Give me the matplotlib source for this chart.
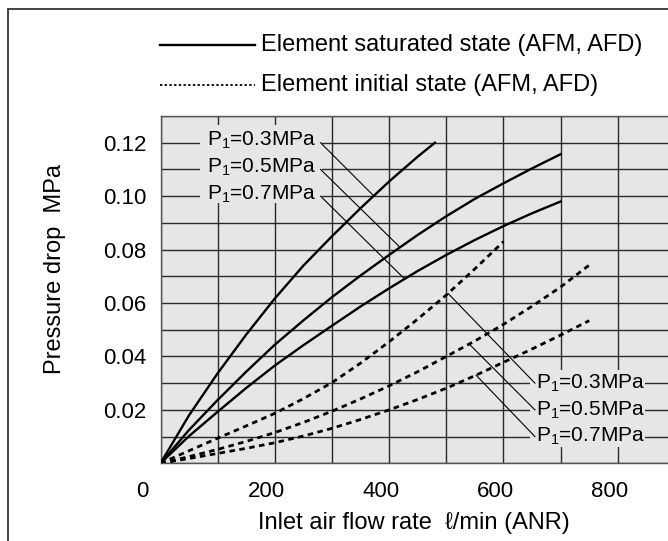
import numpy as np
import matplotlib
matplotlib.use('Agg')
import matplotlib.pyplot as plt
from matplotlib.patches import Rectangle
from matplotlib.lines import Line2D
from matplotlib.transforms import ScaledTranslation

plt.rcParams['font.family'] = ['Liberation Sans', 'DejaVu Sans']
plt.rcParams['mathtext.fontset'] = 'custom'
plt.rcParams['mathtext.rm'] = 'Liberation Sans'
plt.rcParams['mathtext.it'] = 'Liberation Sans:italic'

# Element saturated state (solid curves)
sat_03_x = [0, 50, 100, 150, 200, 250, 300, 350, 400, 450, 480]
sat_03_y = [0, 0.018, 0.0337, 0.0482, 0.0617, 0.0740, 0.0850, 0.0955, 0.1055, 0.1148, 0.1200]
sat_x = [0, 50, 100, 150, 200, 250, 300, 350, 400, 450, 500, 550, 600, 650, 700]
sat_05_y = [0, 0.0125, 0.0237, 0.0343, 0.0444, 0.0535, 0.0622, 0.0703, 0.0780, 0.0855,
            0.0925, 0.0990, 0.1048, 0.1104, 0.1157]
sat_07_y = [0, 0.0102, 0.0193, 0.0282, 0.0366, 0.0442, 0.0515, 0.0587, 0.0655, 0.0720,
            0.0780, 0.0836, 0.0888, 0.0936, 0.0980]

# Element initial state (dotted curves)
ini_03_x = [0, 50, 100, 150, 200, 250, 300, 350, 400, 450, 500, 550, 600]
ini_03_y = [0, 0.0047, 0.0094, 0.0140, 0.0187, 0.0242, 0.0302, 0.0375, 0.0455, 0.0540,
            0.0630, 0.0728, 0.0830]
ini_x = [0, 50, 100, 150, 200, 250, 300, 350, 400, 450, 500, 550, 600, 650, 700, 750]
ini_05_y = [0, 0.0025, 0.0052, 0.0082, 0.0115, 0.0153, 0.0195, 0.0241, 0.0290, 0.0343,
            0.0400, 0.0458, 0.0520, 0.0588, 0.0660, 0.0742]
ini_07_y = [0, 0.0018, 0.0037, 0.0056, 0.0077, 0.0102, 0.0131, 0.0164, 0.0200, 0.0239,
            0.0281, 0.0328, 0.0378, 0.0428, 0.0480, 0.0534]

pressures = ['0.3', '0.5', '0.7']
label_tl_y = [0.12, 0.11, 0.10]      # top-left labels (saturated)
label_br_y = [0.03, 0.02, 0.01]      # bottom-right labels (initial)
leader_tl_end = [373, 419, 427]      # flow where leader meets solid curve
leader_br_end = [503, 540, 552]      # flow where leader meets dotted curve

xtick_vals = [0, 200, 400, 600, 800]
ytick_vals = [0.02, 0.04, 0.06, 0.08, 0.10, 0.12]

W, H = 668, 541
fig = plt.figure(figsize=(W / 100, H / 100), dpi=100)
fig.patch.set_facecolor('white')

x0, x1, y0, y1 = 160.5, 675, 463.3, 116
ax = fig.add_axes([x0 / W, 1 - y0 / H, (x1 - x0) / W, (y0 - y1) / H])
ax.set_facecolor('#e6e6e6')
ax.set_xlim(0, 900)
ax.set_ylim(0, 0.13)
ax.set_axisbelow(True)

ax.set_xticks(np.arange(0, 901, 100))
ax.set_xticklabels([str(v) if v in xtick_vals else '' for v in range(0, 901, 100)])
yt = np.round(np.arange(0, 0.131, 0.01), 2)
ax.set_yticks(yt)
ax.set_yticklabels(['%.2f' % v if any(abs(v - t) < 1e-9 for t in ytick_vals) else '' for v in yt])
ax.tick_params(length=0, labelsize=16)
ax.tick_params(axis='y', pad=10)
ax.tick_params(axis='x', pad=13)
ax.grid(True, color='#2a2a2a', lw=1.0)
for s in ax.spines.values():
    s.set_color('#555555')
    s.set_linewidth(1.0)

# shift x tick labels a bit to the left like the original
for lab in ax.get_xticklabels():
    dx = -18 if lab.get_text() == '0' else -8
    lab.set_transform(lab.get_transform() + ScaledTranslation(dx / 100, 0, fig.dpi_scale_trans))

bg = '#e6e6e6'
ax.add_patch(Rectangle((69, 0.0975), 213, 0.0292, facecolor=bg, edgecolor='none', zorder=1))
ax.add_patch(Rectangle((646, 0.0061), 202, 0.0289, facecolor=bg, edgecolor='none', zorder=1))

ax.plot(sat_03_x, sat_03_y, color='black', lw=1.7, zorder=3)
ax.plot(sat_x, sat_05_y, color='black', lw=1.7, zorder=3)
ax.plot(sat_x, sat_07_y, color='black', lw=1.7, zorder=3)
dot = (0, (2.0, 1.6))
ax.plot(ini_03_x, ini_03_y, color='black', lw=2.0, ls=dot, zorder=3)
ax.plot(ini_x, ini_05_y, color='black', lw=2.0, ls=dot, zorder=3)
ax.plot(ini_x, ini_07_y, color='black', lw=2.0, ls=dot, zorder=3)

sat_curves = [(sat_03_x, sat_03_y), (sat_x, sat_05_y), (sat_x, sat_07_y)]
ini_curves = [(ini_03_x, ini_03_y), (ini_x, ini_05_y), (ini_x, ini_07_y)]

for p, yl, xe, (cx, cy) in zip(pressures, label_tl_y, leader_tl_end, sat_curves):
    ax.text(82, yl + 0.0008, r'P$_{\mathrm{1}}$=' + p + 'MPa', fontsize=15, va='center', ha='left', zorder=4)
    ax.plot([280, xe], [yl, np.interp(xe, cx, cy)], color='black', lw=0.8, zorder=2)

for p, yl, xe, (cx, cy) in zip(pressures, label_br_y, leader_br_end, ini_curves):
    ax.text(657, yl, r'P$_{\mathrm{1}}$=' + p + 'MPa', fontsize=15, va='center', ha='left', zorder=4)
    ax.plot([655, xe], [yl, np.interp(xe, cx, cy)], color='black', lw=0.8, zorder=2)

# legend above plot
fig.add_artist(Line2D([160 / W, 255 / W], [1 - 45 / H, 1 - 45 / H], color='black', lw=1.7))
fig.add_artist(Line2D([160 / W, 255 / W], [1 - 85 / H, 1 - 85 / H], color='black', lw=1.3, ls=(0, (1.3, 1.3))))
fig.text(261 / W, 1 - 45 / H, 'Element saturated state (AFM, AFD)', fontsize=17, va='center', ha='left')
fig.text(261 / W, 1 - 85 / H, 'Element initial state (AFM, AFD)', fontsize=17, va='center', ha='left')

fig.text(414 / W, 1 - 523 / H, 'Inlet air flow rate  \u2113/min (ANR)', fontsize=17, va='center', ha='center')
fig.text(55 / W, 1 - 269 / H, 'Pressure drop  MPa', fontsize=17, va='center', ha='center', rotation=90)

# outer frame (cut at right/bottom)
fig.add_artist(Rectangle((7.5 / W, -0.1), 1.2, 1.1 - 9 / H, transform=fig.transFigure,
                         fill=False, edgecolor='#333333', lw=1.3, clip_on=False))

fig.savefig('out.png', dpi=100)
